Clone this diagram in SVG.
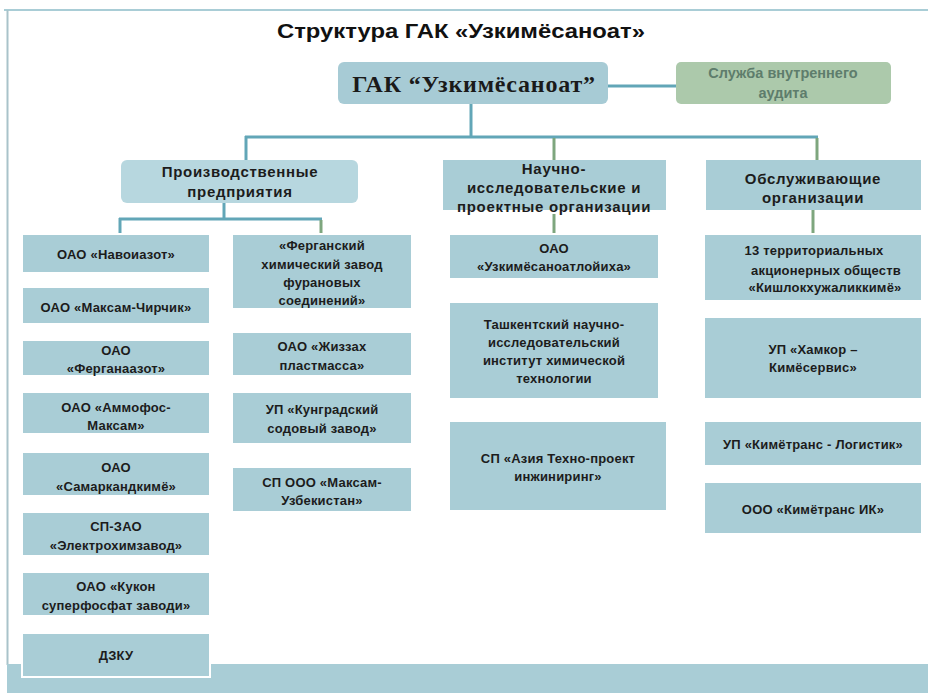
<svg xmlns="http://www.w3.org/2000/svg" width="928" height="693" viewBox="0 0 928 693">
<style>
.box{fill:#a9cdd6}
.t{font-family:"Liberation Sans",Arial,sans-serif;font-weight:bold;font-size:13px;letter-spacing:0.2px;fill:#1c1c1c;text-anchor:middle}
.h{font-family:"Liberation Sans",Arial,sans-serif;font-weight:bold;font-size:15px;letter-spacing:0.7px;fill:#1c1c1c;text-anchor:middle}
.teal{stroke:#62a6b7;stroke-width:3;fill:none}
.green{stroke:#7ea67e;stroke-width:3;fill:none}
</style>
<rect width="928" height="693" fill="#ffffff"/>
<g id="frame">
<line x1="4" y1="10" x2="928" y2="10" stroke="#a9cdd6" stroke-width="2"/>
<line x1="7.5" y1="10" x2="7.5" y2="665" stroke="#a9c3ca" stroke-width="2"/>
<rect x="7" y="664" width="921" height="29" fill="#a9cdd6"/>
</g>
<text x="461" y="38" font-family="'Liberation Sans Narrow','Liberation Sans',Arial,sans-serif" font-weight="bold" font-size="21" fill="#111" text-anchor="middle" textLength="368" lengthAdjust="spacingAndGlyphs">Структура ГАК «Узкимёсаноат»</text>
<g id="connectors">
<line class="teal" x1="608" y1="86" x2="676" y2="86"/>
<line class="teal" x1="471" y1="104" x2="471" y2="137"/>
<line class="teal" x1="245" y1="137" x2="818" y2="137"/>
<line class="teal" x1="246" y1="136" x2="246" y2="160"/>
<line class="green" x1="554" y1="138" x2="554" y2="160"/>
<line class="green" x1="817" y1="138" x2="817" y2="160"/>
<line class="teal" x1="224" y1="203" x2="224" y2="219"/>
<line class="teal" x1="119" y1="219" x2="322" y2="219"/>
<line class="teal" x1="120" y1="218" x2="120" y2="233"/>
<line class="green" x1="321" y1="220" x2="321" y2="233"/>
<line class="green" x1="554" y1="214" x2="554" y2="233"/>
<line class="green" x1="813" y1="210" x2="813" y2="233"/>
</g>
<g id="gak">
<rect x="338" y="62" width="270" height="42" rx="6" fill="#a7cbd5"/>
<text x="474" y="92" font-family="'Liberation Serif','Times New Roman',serif" font-weight="bold" font-size="24" letter-spacing="0.8" fill="#1a1a1a" text-anchor="middle">ГАК “Узкимёсаноат”</text>
</g>
<g id="audit">
<rect x="676" y="62" width="215" height="42" rx="5" fill="#acc9ab"/>
<text x="783" y="78" font-family="'Liberation Sans',Arial,sans-serif" font-weight="bold" font-size="14.5" fill="#5e7d6c" text-anchor="middle">Служба внутреннего</text>
<text x="783" y="98" font-family="'Liberation Sans',Arial,sans-serif" font-weight="bold" font-size="14.5" fill="#5e7d6c" text-anchor="middle">аудита</text>
</g>
<g id="prod">
<rect x="121" y="160" width="237" height="43" rx="6" fill="#b7d7df"/>
<text class="h" x="240" y="177">Производственные</text>
<text class="h" x="240" y="197">предприятия</text>
</g>
<g id="nauch">
<rect class="box" x="443" y="160" width="223" height="50"/>
<text class="h" x="554" y="174">Научно-</text>
<text class="h" x="554" y="193">исследовательские  и</text>
<text class="h" x="554" y="212">проектные организации</text>
</g>
<g id="obsl">
<rect class="box" x="706" y="160" width="215" height="50"/>
<text class="h" x="813" y="184">Обслуживающие</text>
<text class="h" x="813" y="203">организации</text>
</g>
<g id="n1"><rect class="box" x="23" y="235" width="186" height="37"/><text class="t" x="116" y="259">ОАО  «Навоиазот»</text></g>
<g id="n2"><rect class="box" x="23" y="288" width="186" height="35"/><text class="t" x="116" y="312">ОАО  «Максам-Чирчик»</text></g>
<g id="n3"><rect class="box" x="23" y="341" width="186" height="34"/><text class="t" x="116" y="355">ОАО</text><text class="t" x="116" y="373">«Ферганаазот»</text></g>
<g id="n4"><rect class="box" x="23" y="393" width="186" height="40"/><text class="t" x="116" y="412">ОАО  «Аммофос-</text><text class="t" x="116" y="430">Максам»</text></g>
<g id="n5"><rect class="box" x="23" y="453" width="186" height="42"/><text class="t" x="116" y="472">ОАО</text><text class="t" x="116" y="491">«Самаркандкимё»</text></g>
<g id="n6"><rect class="box" x="23" y="513" width="186" height="42"/><text class="t" x="116" y="531">СП-ЗАО</text><text class="t" x="116" y="550">«Электрохимзавод»</text></g>
<g id="n7"><rect class="box" x="23" y="573" width="186" height="42"/><text class="t" x="116" y="591">ОАО  «Кукон</text><text class="t" x="116" y="610">суперфосфат  заводи»</text></g>
<g id="n8"><rect class="box" x="22" y="633" width="188" height="44" stroke="#ffffff" stroke-width="2"/><text class="t" x="116" y="660">ДЗКУ</text></g>
<g id="m1"><rect class="box" x="233" y="235" width="178" height="73"/><text class="t" x="322" y="250">«Ферганский</text><text class="t" x="322" y="269">химический  завод</text><text class="t" x="322" y="287">фурановых</text><text class="t" x="322" y="305">соединений»</text></g>
<g id="m2"><rect class="box" x="233" y="333" width="178" height="42"/><text class="t" x="322" y="351">ОАО  «Жиззах</text><text class="t" x="322" y="370">пластмасса»</text></g>
<g id="m3"><rect class="box" x="233" y="393" width="178" height="50"/><text class="t" x="322" y="414">УП  «Кунградский</text><text class="t" x="322" y="433">содовый  завод»</text></g>
<g id="m4"><rect class="box" x="233" y="468" width="178" height="43"/><text class="t" x="322" y="487">СП ООО  «Максам-</text><text class="t" x="322" y="505">Узбекистан»</text></g>
<g id="r1"><rect class="box" x="450" y="235" width="208" height="43"/><text class="t" x="554" y="253">ОАО</text><text class="t" x="554" y="271">«Узкимёсаноатлойиха»</text></g>
<g id="r2"><rect class="box" x="450" y="303" width="208" height="95"/><text class="t" x="554" y="329">Ташкентский  научно-</text><text class="t" x="554" y="347">исследовательский</text><text class="t" x="554" y="365">институт  химической</text><text class="t" x="554" y="383">технологии</text></g>
<g id="r3"><rect class="box" x="450" y="422" width="216" height="88"/><text class="t" x="558" y="463">СП «Азия Техно-проект</text><text class="t" x="558" y="481">инжиниринг»</text></g>
<g id="s1"><rect class="box" x="705" y="235" width="216" height="65"/><text class="t" x="814" y="255">13  территориальных</text><text class="t" x="826" y="275">акционерных  обществ</text><text class="t" x="825" y="292">«Кишлокхужаликкимё»</text></g>
<g id="s2"><rect class="box" x="705" y="318" width="216" height="80"/><text class="t" x="813" y="354">УП «Хамкор –</text><text class="t" x="813" y="372">Кимёсервис»</text></g>
<g id="s3"><rect class="box" x="705" y="422" width="216" height="43"/><text class="t" x="813" y="449">УП «Кимётранс  - Логистик»</text></g>
<g id="s4"><rect class="box" x="705" y="483" width="216" height="50"/><text class="t" x="813" y="514">ООО «Кимётранс  ИК»</text></g>
</svg>
